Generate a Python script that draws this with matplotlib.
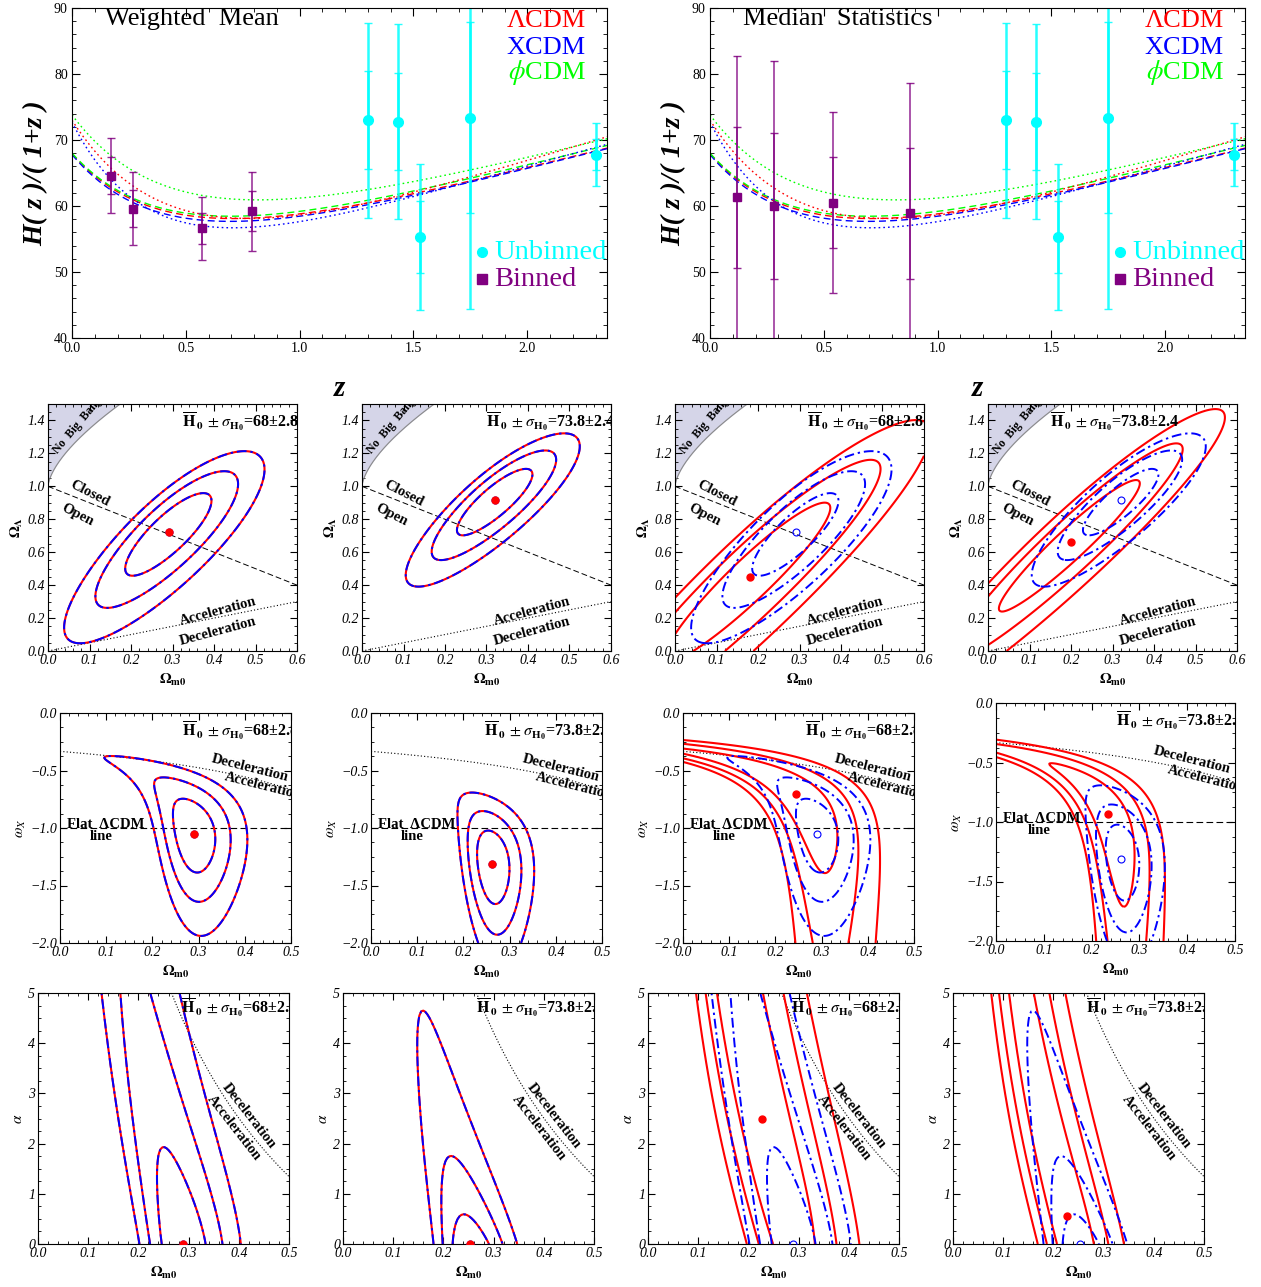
import numpy as np
import matplotlib
matplotlib.use("Agg")
import matplotlib.pyplot as plt
from matplotlib.ticker import AutoMinorLocator

plt.rcParams['font.family'] = ['Liberation Serif', 'DejaVu Serif']
plt.rcParams['mathtext.fontset'] = 'stix'

# H(z)/(1+z) and 1 sigma errors
wm_z = [0.17, 0.27, 0.57, 0.79]
wm_h = [64.6, 59.6, 56.6, 59.2]
wm_err = [2.85, 2.75, 2.4, 3.0]

med_z = [0.12, 0.28, 0.54, 0.88]
med_h = [61.3, 60.0, 60.5, 58.9]
med_err = [10.7, 11.0, 6.85, 9.9]

unb_z = [1.30, 1.43, 1.53, 1.75, 2.30]
unb_h = [73.0, 72.8, 55.3, 73.4, 67.8]
unb_err = [7.4, 7.4, 5.5, 14.5, 2.4]

# best-fit model curves of the top panels: first H0=68 prior (dashed), then 73.8 (dotted)
lcdm_fits = [(67.9, 0.29, 0.72), (73.0, 0.32, 0.90)]    # H0, Om0, OL
xcdm_fits = [(67.8, 0.29, -1.04), (72.7, 0.265, -1.30)]  # H0, Om0, w
phi_fits = [(68.0, 0.29, 0.0), (73.8, 0.25, 0.0)]        # H0, Om0, alpha

# H0 priors (mean, sigma) and their labels
prior_68 = (68.0, 2.8)
prior_738 = (73.8, 2.4)
prior_txt = {prior_68: '=68\u00b12.8', prior_738: '=73.8\u00b12.4'}

# parameter grids of the contour panels
om_lcdm = np.linspace(0.0, 0.6, 241)
ol_lcdm = np.linspace(0.0, 1.5, 301)
om_x = np.linspace(0.0, 0.5, 201)
w_x = np.linspace(-2.0, 0.0, 201)
om_p = np.linspace(0.004, 0.5, 125)
al_p = np.linspace(0.0, 5.0, 81)
# phiCDM contours of the figure reach ~1.6x higher in alpha than a plain tracker run
phi_alpha_scale = 0.62

levels = np.array([2.30, 6.17, 11.83])

RED, BLUE, GREEN = '#ff0000', '#0000ff', '#00ff00'
CYAN, PURPLE = '#00ffff', '#800080'

W, H = 1261, 1287
fig = plt.figure(figsize=(W / 100, H / 100), dpi=100)


def add_ax(l, t, r, b):
    return fig.add_axes([l / W, 1 - b / H, (r - l) / W, (b - t) / H])


# ---------------- models ----------------
def e_lcdm(om, ol, z):
    zp = 1.0 + np.asarray(z)
    om = np.asarray(om)[..., None]
    ol = np.asarray(ol)[..., None]
    e2 = om * zp**3 + (1 - om - ol) * zp**2 + ol
    return np.sqrt(np.clip(e2, 1e-8, None)), np.all(e2 > 0, axis=-1)


def e_xcdm(om, w, z):
    zp = 1.0 + np.asarray(z)
    om = np.asarray(om)[..., None]
    w = np.asarray(w)[..., None]
    return np.sqrt(om * zp**3 + (1 - om) * zp**(3 * (1 + w)))


def phi_tracks(alphas, n_end=14.0, n_steps=2800):
    # Ratra-Peebles field V ~ phi^-alpha, started on the tracker in the matter era
    a = np.maximum(np.asarray(alphas, float), 1e-3)
    p = 2.0 / (a + 2.0)
    c = (a / (p * (p + 1.0))) ** (1.0 / (a + 2.0))
    t0 = 1e-4
    rho0 = 4.0 / (3.0 * t0**2)
    psi = c * t0**p
    u = 1.5 * p * psi
    dn = n_end / n_steps
    N = np.linspace(0, n_end, n_steps + 1)
    lnH = np.empty((len(a), n_steps + 1))
    Om = np.empty_like(lnH)
    q = np.empty_like(lnH)

    def rhs(n, psi, u):
        rho_m = rho0 * np.exp(-3 * n)
        h2 = (rho_m + psi**(-a)) / (3 - 0.5 * u * u)
        dlnh = -(rho_m + h2 * u * u) / (2 * h2)
        du = -(3 + dlnh) * u + a * psi**(-a - 1) / h2
        return du, h2, dlnh, rho_m

    for k in range(n_steps + 1):
        n = N[k]
        du1, h2, dlnh, rho_m = rhs(n, psi, u)
        lnH[:, k] = 0.5 * np.log(h2)
        Om[:, k] = rho_m / (3 * h2)
        q[:, k] = -1 - dlnh
        if k == n_steps:
            break
        k1p, k1u = u, du1
        k2u = rhs(n + dn / 2, psi + dn / 2 * k1p, u + dn / 2 * k1u)[0]
        k2p = u + dn / 2 * k1u
        k3u = rhs(n + dn / 2, psi + dn / 2 * k2p, u + dn / 2 * k2u)[0]
        k3p = u + dn / 2 * k2u
        k4u = rhs(n + dn, psi + dn * k3p, u + dn * k3u)[0]
        k4p = u + dn * k3u
        psi = psi + dn / 6 * (k1p + 2 * k2p + 2 * k3p + k4p)
        u = u + dn / 6 * (k1u + 2 * k2u + 2 * k3u + k4u)
    return N, lnH, Om, q


tracks_fit = phi_tracks(al_p * phi_alpha_scale)
tracks_q = phi_tracks(al_p)


def e_phi(tracks, j, om0, z):
    N, lnH, Om, _ = tracks
    n0 = np.interp(om0, Om[j, ::-1], N[::-1])
    nz = np.asarray(n0)[..., None] - np.log1p(np.asarray(z))
    return np.exp(np.interp(nz, N, lnH[j]) - np.asarray(np.interp(n0, N, lnH[j]))[..., None])


def q0_phi(tracks):
    N, lnH, Om, q = tracks
    out = np.empty((len(al_p), len(om_p)))
    for j in range(len(al_p)):
        n0 = np.interp(om_p, Om[j, ::-1], N[::-1])
        out[j] = np.interp(n0, N, q[j])
    return out


def chi2_marg(E, data, prior):
    # chi^2 with H0 marginalised over a Gaussian prior
    z, h, err = data
    zp = 1 + np.asarray(z)
    Hz = np.asarray(h) * zp
    sz = np.asarray(err) * zp
    h0, s0 = prior
    A = np.sum(E**2 / sz**2, -1) + 1 / s0**2
    B = np.sum(E * Hz / sz**2, -1) + h0 / s0**2
    C = np.sum(Hz**2 / sz**2) + h0**2 / s0**2
    return C - B**2 / A + np.log(A)


wm_set = (wm_z + unb_z, wm_h + unb_h, wm_err + unb_err)
med_set = (med_z + unb_z, med_h + unb_h, med_err + unb_err)

OMl, OLl = np.meshgrid(om_lcdm, ol_lcdm)
OMx, Wx = np.meshgrid(om_x, w_x)


def chi_lcdm(data, prior):
    E, ok = e_lcdm(OMl, OLl, data[0])
    return np.where(ok, chi2_marg(E, data, prior), 1e9)


def chi_xcdm(data, prior):
    return chi2_marg(e_xcdm(OMx, Wx, data[0]), data, prior)


def chi_phi(data, prior):
    E = np.stack([e_phi(tracks_fit, j, om_p, data[0]) for j in range(len(al_p))])
    return chi2_marg(E, data, prior)


# ---------------- top panels ----------------
zc = np.linspace(0, 2.36, 300)
curves = []
for k, ls in enumerate([(0, (5, 3)), (0, (1.2, 2.2))]):
    h0, om, ol = lcdm_fits[k]
    curves.append((h0 * e_lcdm(om, ol, zc)[0] / (1 + zc), RED, ls))
    h0, om, w = xcdm_fits[k]
    curves.append((h0 * e_xcdm(om, w, zc) / (1 + zc), BLUE, ls))
    h0, om, al = phi_fits[k]
    j = int(np.argmin(np.abs(al_p - al)))
    curves.append((h0 * e_phi(tracks_q, j, om, zc) / (1 + zc), GREEN, ls))

top_specs = [((72, 8, 607, 338), 'Weighted  Mean', wm_z, wm_h, wm_err),
             ((710, 8, 1245, 338), 'Median  Statistics', med_z, med_h, med_err)]
for k, (box, title, bz, bh, be) in enumerate(top_specs):
    ax = add_ax(*box)
    for y, col, ls in curves:
        ax.plot(zc, y, color=col, ls=ls, lw=1.0)
    for zz, hh, ee, col, mk, lw, ms in [(unb_z, unb_h, unb_err, CYAN, 'o', 1.8, 7),
                                        (bz, bh, be, PURPLE, 's', 1.1, 6)]:
        for mult in (2, 1):
            ax.errorbar(zz, hh, yerr=np.asarray(ee) * mult, fmt='none', ecolor=col,
                        elinewidth=lw, capsize=3, capthick=1.0, alpha=0.85)
        ax.plot(zz, hh, mk, color=col, ms=ms, zorder=5)
    ax.set_xlim(0, 2.35)
    ax.set_ylim(40, 90)
    ax.set_xticks([0, 0.5, 1.0, 1.5, 2.0], ['0.0', '0.5', '1.0', '1.5', '2.0'], fontsize=10)
    ax.set_yticks([40, 50, 60, 70, 80, 90], ['40', '50', '60', '70', '80', '90'], fontsize=10)
    ax.xaxis.set_minor_locator(AutoMinorLocator(5))
    ax.yaxis.set_minor_locator(AutoMinorLocator(5))
    ax.tick_params(which='both', direction='in', top=True, right=True, pad=3)
    ax.tick_params(which='major', length=6, width=0.8)
    ax.tick_params(which='minor', length=3, width=0.6)
    ax.set_xlabel('z', fontsize=21, fontstyle='italic', fontweight='bold', labelpad=14)
    ax.set_ylabel('H( z )/( 1+z )', fontsize=20, fontstyle='italic', fontweight='bold', labelpad=4)
    ax.text(0.062, 0.966, title, transform=ax.transAxes, fontsize=19, va='center')
    for txt, col, yy in [('\u039bCDM', RED, 0.962), ('XCDM', BLUE, 0.880), ('$\\phi$CDM', GREEN, 0.805)]:
        ax.text(0.96, yy, txt, transform=ax.transAxes, color=col, fontsize=19, ha='right', va='center')
    ax.plot([1.80], [53.0], 'o', color=CYAN, ms=7)
    ax.plot([1.80], [48.9], 's', color=PURPLE, ms=7)
    ax.text(1.855, 53.0, 'Unbinned', color=CYAN, fontsize=20.5, va='center', clip_on=True)
    ax.text(1.855, 48.9, 'Binned', color=PURPLE, fontsize=20.5, va='center')


# ---------------- contour panels ----------------
col_specs = [(wm_set, prior_68), (wm_set, prior_738), (med_set, prior_68), (med_set, prior_738)]
dashdot = (0, (5, 2, 1.2, 2))


def style_contour_ax(ax, xt, yt, ylab, xlim, ylim):
    ax.set_xlim(*xlim)
    ax.set_ylim(*ylim)
    ax.set_xticks(xt, [('%.1f' % v) for v in xt], fontsize=10, fontstyle='italic')
    ax.set_yticks(yt[0], yt[1], fontsize=10, fontstyle='italic')
    ax.xaxis.set_minor_locator(AutoMinorLocator(5))
    ax.yaxis.set_minor_locator(AutoMinorLocator(4))
    ax.tick_params(which='both', direction='in', top=True, right=True, pad=2)
    ax.tick_params(which='major', length=5, width=0.8)
    ax.tick_params(which='minor', length=2.5, width=0.6)
    ax.set_xlabel(r'$\mathbf{\Omega_{m0}}$', fontsize=11, labelpad=4)
    ax.set_ylabel(ylab, fontsize=11, labelpad=2)


def draw_fits(ax, X, Y, chi_r, chi_b):
    for chi, col, lw in [(chi_r, RED, 1.5), (chi_b, BLUE, 1.4)]:
        cs = ax.contour(X, Y, chi, levels=np.min(chi) + levels, colors=col, linewidths=lw)
        if col == BLUE:
            cs.set_linestyle(dashdot)
    ib = np.unravel_index(np.argmin(chi_b), chi_b.shape)
    ir = np.unravel_index(np.argmin(chi_r), chi_r.shape)
    ax.plot(X[ib[1]], Y[ib[0]], 'o', mfc='none', mec=BLUE, ms=5, mew=0.8, zorder=6)
    ax.plot(X[ir[1]], Y[ir[0]], 'o', color=RED, ms=5, zorder=7)


def h0_label(ax, xf, yf, prior):
    ax.text(xf, yf, r'$\overline{\mathbf{H}}_{\,\mathbf{0}}\;\pm\sigma_{\mathbf{H_0}}$' + prior_txt[prior],
            transform=ax.transAxes, fontsize=11.5, fontweight='bold', va='center', clip_on=True)


bold = dict(fontsize=10.5, fontweight='bold', ha='center', va='center')

# row 2: non-flat LCDM
row2_left = [48, 362, 675, 988]
row2_lab = [0.54, 0.50, 0.53, 0.25]
om_nb = np.linspace(1e-4, 0.22, 200)
ol_nb = 4 * om_nb * np.cosh(np.arccosh((1 - om_nb) / om_nb) / 3) ** 3
om_line = np.linspace(0, 0.6, 50)
for k, (data, prior) in enumerate(col_specs):
    ax = add_ax(row2_left[k], 404, row2_left[k] + 249, 651)
    ax.fill_between(om_nb, ol_nb, 1.6, color='#d5d5e8', lw=0)
    ax.plot(om_nb, ol_nb, color='#8a8a8a', lw=0.8)
    ax.plot(om_line, 1 - om_line, color='k', ls=(0, (6, 3)), lw=0.7)
    ax.plot(om_line, om_line / 2, color='k', ls=(0, (1, 2)), lw=0.8)
    draw_fits(ax, om_lcdm, ol_lcdm, chi_lcdm(data, prior), chi_lcdm(wm_set, prior))
    ax.text(0.072, 1.37, 'No  Big  Bang', rotation=50, clip_on=True, **dict(bold, fontsize=8.5))
    ax.text(0.10, 0.955, 'Closed', rotation=-27, **bold)
    ax.text(0.07, 0.825, 'Open', rotation=-27, **bold)
    ax.text(0.41, 0.24, 'Acceleration', rotation=15, **bold)
    ax.text(0.41, 0.12, 'Deceleration', rotation=15, **bold)
    style_contour_ax(ax, [0, 0.1, 0.2, 0.3, 0.4, 0.5, 0.6],
                     ([0, 0.2, 0.4, 0.6, 0.8, 1.0, 1.2, 1.4],
                      ['0.0', '0.2', '0.4', '0.6', '0.8', '1.0', '1.2', '1.4']),
                     r'$\mathbf{\Omega_{\Lambda}}$', (0, 0.6), (0, 1.5))
    h0_label(ax, row2_lab[k], 0.93, prior)

# row 3: XCDM
row3_box = [(60, 713, 291, 943), (371, 713, 602, 943), (683, 713, 914, 943), (996, 703, 1235, 941)]
row3_lab = [0.53, 0.49, 0.53, 0.50]
wt = [0, -0.5, -1.0, -1.5, -2.0]
for k, (data, prior) in enumerate(col_specs):
    ax = add_ax(*row3_box[k])
    ax.plot(om_x, -1 / (3 * (1 - om_x)), color='k', ls=(0, (1, 2)), lw=0.8)
    ax.axhline(-1, color='k', ls=(0, (6, 3)), lw=0.8)
    draw_fits(ax, om_x, w_x, chi_xcdm(data, prior), chi_xcdm(wm_set, prior))
    ax.text(0.41, -0.48, 'Deceleration', rotation=-14, **bold)
    ax.text(0.44, -0.64, 'Acceleration', rotation=-14, clip_on=True, **bold)
    ax.text(0.015, -0.972, 'Flat  \u039bCDM', **dict(bold, ha='left'))
    ax.text(0.09, -1.075, 'line', **bold)
    style_contour_ax(ax, [0, 0.1, 0.2, 0.3, 0.4, 0.5],
                     (wt, ['0.0'] + ['\u2212%.1f' % -v for v in wt[1:]]),
                     r'$\omega_X$', (0, 0.5), (-2, 0))
    h0_label(ax, row3_lab[k], 0.925, prior)

# row 4: phiCDM
row4_left = [38, 343, 648, 953]
row4_lab = [0.57, 0.53, 0.57, 0.53]
q0g = q0_phi(tracks_q)
for k, (data, prior) in enumerate(col_specs):
    ax = add_ax(row4_left[k], 993, row4_left[k] + 251, 1244)
    ax.contour(om_p, al_p, q0g, levels=[0], colors='k', linewidths=0.8, linestyles='dotted')
    draw_fits(ax, om_p, al_p, chi_phi(data, prior), chi_phi(wm_set, prior))
    ax.text(0.42, 2.55, 'Deceleration', rotation=-52, **bold)
    ax.text(0.39, 2.32, 'Acceleration', rotation=-52, **bold)
    style_contour_ax(ax, [0, 0.1, 0.2, 0.3, 0.4, 0.5],
                     ([0, 1, 2, 3, 4, 5], ['0', '1', '2', '3', '4', '5']),
                     r'$\alpha$', (0, 0.5), (0, 5))
    h0_label(ax, row4_lab[k], 0.94, prior)

fig.savefig('out.png', dpi=100)
